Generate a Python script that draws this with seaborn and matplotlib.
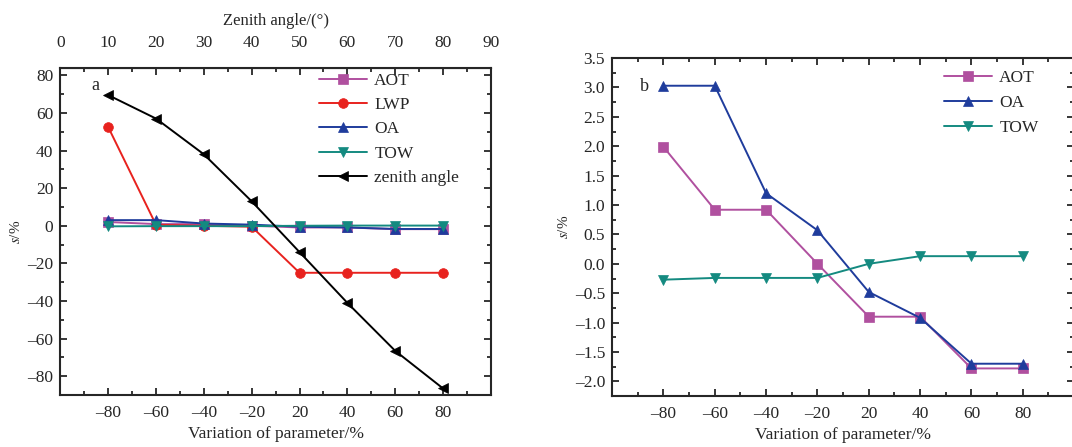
import numpy as np
import matplotlib
matplotlib.use("Agg")
import matplotlib.pyplot as plt
import seaborn as sns
from matplotlib.ticker import MultipleLocator, FixedLocator

# data
variation = ["-80", "-60", "-40", "-20", "20", "40", "60", "80"]
pos = [1, 2, 3, 4, 5, 6, 7, 8]

a_aot = [2.0, 0.9, 0.9, 0.0, -0.9, -0.9, -1.8, -1.8]
a_lwp = [52.5, 0.5, 0.0, -0.5, -25.0, -25.0, -25.0, -25.0]
a_oa = [3.0, 3.0, 1.2, 0.6, -0.5, -0.9, -1.7, -1.7]
a_tow = [-0.3, -0.2, -0.2, -0.2, 0.0, 0.1, 0.1, 0.1]
zenith = [10, 20, 30, 40, 50, 60, 70, 80]
a_zenith = [69.5, 57.0, 38.0, 13.0, -14.0, -41.0, -66.5, -86.5]

b_aot = [1.99, 0.92, 0.92, 0.0, -0.9, -0.9, -1.78, -1.78]
b_oa = [3.03, 3.03, 1.2, 0.57, -0.48, -0.92, -1.7, -1.7]
b_tow = [-0.27, -0.24, -0.24, -0.24, 0.0, 0.13, 0.13, 0.13]

c_aot = "#b0509f"
c_lwp = "#e8221e"
c_oa = "#1f3c9c"
c_tow = "#148a80"
c_zen = "black"

sns.set_style("ticks")
plt.rcParams["font.family"] = ["Liberation Serif", "DejaVu Serif"]
plt.rcParams["mathtext.fontset"] = "stix"
fs = 12.5

fig = plt.figure(figsize=(10.72, 4.47), dpi=100)
ax1 = fig.add_axes([0.0563, 0.1163, 0.4016, 0.732])
ax2 = fig.add_axes([0.571, 0.114, 0.431, 0.756])

kw = dict(linewidth=1.4, markersize=7, markeredgewidth=0.5)

sns.lineplot(x=pos, y=a_aot, ax=ax1, color=c_aot, marker="s", label="AOT", markeredgecolor=c_aot, **kw)
sns.lineplot(x=pos, y=a_lwp, ax=ax1, color=c_lwp, marker="o", label="LWP", markeredgecolor=c_lwp, **kw)
sns.lineplot(x=pos, y=a_oa, ax=ax1, color=c_oa, marker="^", label="OA", markeredgecolor=c_oa, **kw)
sns.lineplot(x=pos, y=a_tow, ax=ax1, color=c_tow, marker="v", label="TOW", markeredgecolor=c_tow, **kw)
sns.lineplot(x=np.array(zenith) / 10, y=a_zenith, ax=ax1, color=c_zen, marker="<",
             label="zenith angle", markeredgecolor=c_zen, **kw)

sns.lineplot(x=pos, y=b_aot, ax=ax2, color=c_aot, marker="s", label="AOT", markeredgecolor=c_aot, **kw)
sns.lineplot(x=pos, y=b_oa, ax=ax2, color=c_oa, marker="^", label="OA", markeredgecolor=c_oa, **kw)
sns.lineplot(x=pos, y=b_tow, ax=ax2, color=c_tow, marker="v", label="TOW", markeredgecolor=c_tow, **kw)

for ax in (ax1, ax2):
    ax.set_xlim(0, 9)
    ax.xaxis.set_major_locator(FixedLocator(pos))
    ax.set_xticklabels([v.replace("-", "\u2013") for v in variation])
    ax.xaxis.set_minor_locator(FixedLocator(np.arange(0.5, 9, 1.0)))
    ax.set_xlabel("Variation of parameter/%", fontsize=12.5, labelpad=4)
    ax.set_ylabel("$s$/%", fontsize=11, labelpad=3)
    for sp in ax.spines.values():
        sp.set_visible(True)
        sp.set_linewidth(1.5)
    ax.tick_params(which="both", direction="in", right=True, labelsize=fs, width=1.3)
    ax.tick_params(which="major", length=5)
    ax.tick_params(which="minor", length=3)
    ax.tick_params(axis="x", which="major", pad=7)
    ax.tick_params(axis="y", which="major", pad=5)

legkw = dict(frameon=False, fontsize=12.5, handlelength=2.8,
             borderpad=0, handletextpad=0.4, loc="upper left")

ax1.set_ylim(-90, 84)
ax1.yaxis.set_major_locator(MultipleLocator(20))
ax1.yaxis.set_minor_locator(MultipleLocator(10))
ax1.set_yticklabels([f"{int(t)}".replace("-", "\u2013") for t in ax1.get_yticks()])
ax1.legend(bbox_to_anchor=(0.58, 1.012), labelspacing=0.47, **legkw)
ax1.text(0.072, 0.945, "a", transform=ax1.transAxes, fontsize=13, va="center")

top = ax1.secondary_xaxis("top", functions=(lambda x: x * 10, lambda x: x / 10))
top.xaxis.set_major_locator(MultipleLocator(10))
top.xaxis.set_minor_locator(MultipleLocator(5))
top.tick_params(which="both", direction="in", labelsize=fs, width=1.3)
top.tick_params(which="major", length=5, pad=12)
top.tick_params(which="minor", length=3)
top.set_xlabel("Zenith angle/(\u00b0)", fontsize=12, labelpad=7)

ax2.set_ylim(-2.25, 3.5)
ax2.yaxis.set_minor_locator(MultipleLocator(0.25))
ax2.set_yticks(np.arange(-2.0, 3.51, 0.5))
ax2.set_yticklabels([f"{t:.1f}".replace("-", "\u2013") for t in np.arange(-2.0, 3.51, 0.5)])
ax2.tick_params(which="both", top=True)
ax2.legend(bbox_to_anchor=(0.699, 0.99), labelspacing=0.5, **legkw)
ax2.text(0.06, 0.915, "b", transform=ax2.transAxes, fontsize=13, va="center")

fig.savefig("out.png", dpi=100)
